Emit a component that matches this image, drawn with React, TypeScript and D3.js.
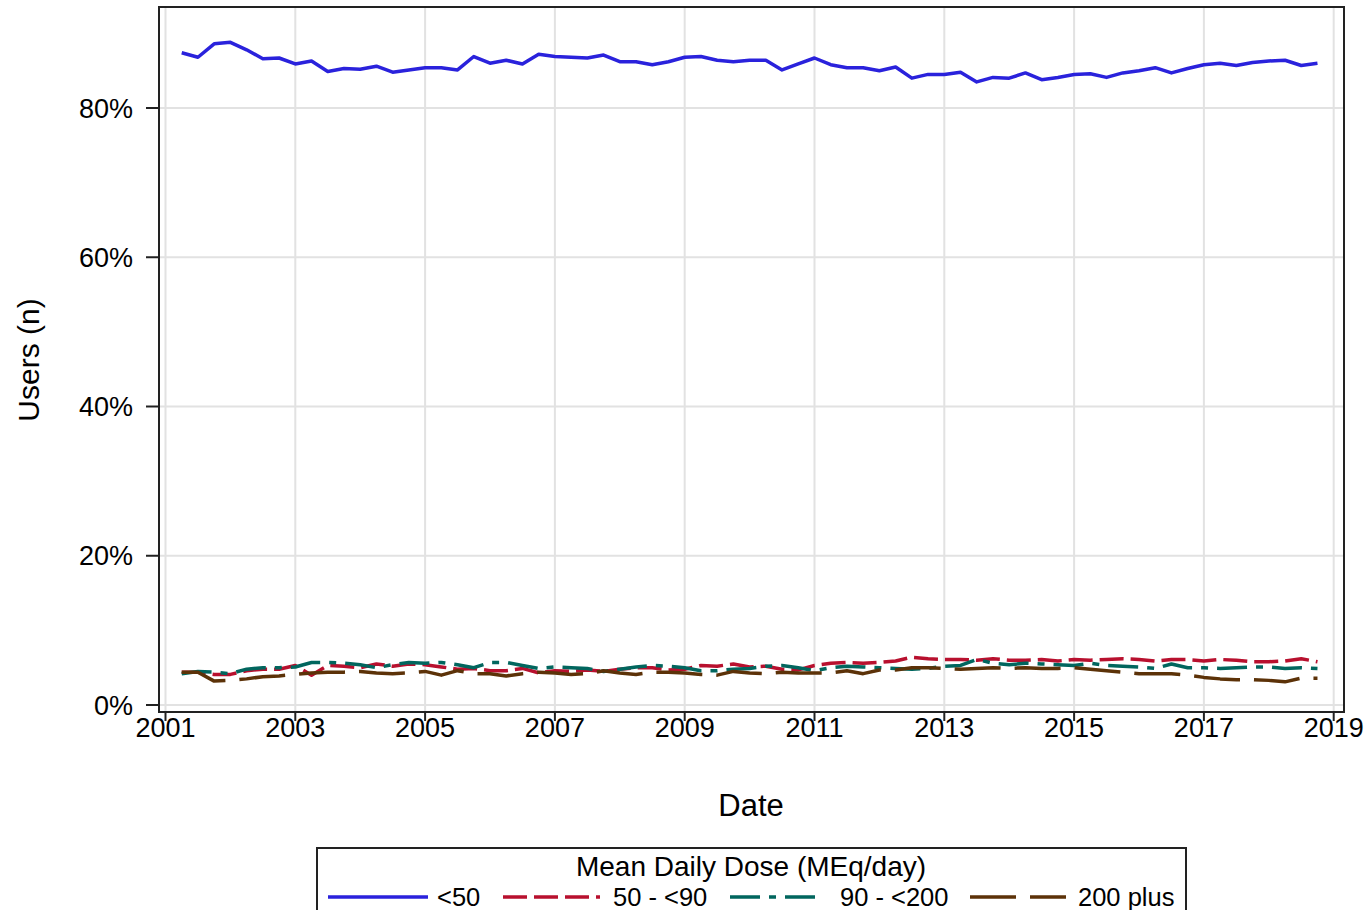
import React from "react";
import * as d3 from "d3";

// ---- Data (quarterly, starting 2001 Q2) ----
const START_YEAR = 2001.25;
const STEP = 0.25;

const lt50 = [87.4, 86.8, 88.6, 88.8, 87.8, 86.6, 86.7, 85.9, 86.3, 84.9, 85.3, 85.2, 85.6, 84.8, 85.1, 85.4, 85.4, 85.1, 86.9, 86.0, 86.4, 85.9, 87.2, 86.9,
  86.8, 86.7, 87.1, 86.2, 86.2, 85.8, 86.2, 86.8, 86.9, 86.4, 86.2, 86.4, 86.4, 85.1, 85.9, 86.7, 85.8, 85.4, 85.4, 85.0, 85.5, 84.0, 84.5, 84.5,
  84.8, 83.5, 84.1, 84.0, 84.7, 83.8, 84.1, 84.5, 84.6, 84.1, 84.7, 85.0, 85.4, 84.7, 85.3, 85.8, 86.0, 85.7, 86.1, 86.3, 86.4, 85.7, 86.0];

const d50to90 = [4.4, 4.4, 4.1, 4.1, 4.6, 4.8, 4.8, 5.3, 4.0, 5.3, 5.2, 5.0, 5.5, 5.2, 5.5, 5.4, 5.1, 4.8, 4.9, 4.6, 4.6, 4.9, 4.3, 4.6,
  4.5, 4.7, 4.5, 4.8, 5.0, 5.0, 4.7, 4.8, 5.3, 5.2, 5.5, 5.1, 5.2, 4.8, 4.7, 5.3, 5.6, 5.7, 5.6, 5.7, 5.9, 6.4, 6.2, 6.1,
  6.1, 6.0, 6.2, 6.0, 6.0, 6.1, 5.9, 6.1, 6.0, 6.1, 6.2, 6.1, 5.9, 6.1, 6.1, 5.9, 6.1, 6.0, 5.8, 5.8, 5.9, 6.2, 5.8];

const d90to200 = [4.2, 4.5, 4.4, 4.2, 4.8, 5.0, 5.0, 5.1, 5.7, 5.7, 5.6, 5.4, 5.0, 5.4, 5.7, 5.6, 5.7, 5.4, 5.0, 5.7, 5.7, 5.3, 4.9, 5.1,
  5.0, 4.9, 4.5, 4.8, 5.1, 5.3, 5.2, 5.0, 4.6, 4.6, 4.8, 4.9, 5.2, 5.3, 5.0, 4.6, 5.0, 5.2, 5.1, 5.0, 4.9, 4.8, 4.9, 5.2,
  5.3, 6.1, 5.6, 5.4, 5.6, 5.5, 5.4, 5.3, 5.6, 5.3, 5.2, 5.1, 4.9, 5.5, 5.0, 5.0, 4.9, 5.0, 5.1, 5.1, 4.9, 5.0, 4.9];

const d200plus = [4.4, 4.4, 3.2, 3.3, 3.5, 3.8, 3.9, 4.1, 4.3, 4.4, 4.4, 4.5, 4.3, 4.2, 4.3, 4.5, 4.0, 4.6, 4.2, 4.2, 3.9, 4.2, 4.4, 4.3,
  4.1, 4.2, 4.6, 4.3, 4.1, 4.4, 4.4, 4.3, 4.1, 4.0, 4.5, 4.3, 4.2, 4.4, 4.3, 4.3, 4.3, 4.6, 4.2, 4.7, 4.7, 5.0, 5.0, 4.9,
  4.8, 4.9, 5.0, 4.9, 5.0, 4.9, 4.9, 5.0, 4.8, 4.6, 4.4, 4.2, 4.2, 4.2, 4.0, 3.7, 3.5, 3.4, 3.4, 3.3, 3.1, 3.6, 3.6];

const seriesNames = ["<50", "50 - <90", "90 - <200", "200 plus"];
const seriesValues = [lt50, d50to90, d90to200, d200plus];
const seriesColors = ["#2a22dc", "#b8102e", "#01665e", "#5c3208"];
const seriesDash = ["none", "24,7", "30,9,7,9", "46,14"];

const xTicks = [2001, 2003, 2005, 2007, 2009, 2011, 2013, 2015, 2017, 2019];
const yTicks = [0, 20, 40, 60, 80];

const legendTitle = "Mean Daily Dose (MEq/day)";

export default function App() {
  const W = 1367, H = 910;
  const frame = { left: 159, right: 1344, top: 7, bottom: 712 };
  const x = d3.scaleLinear().domain([2001, 2019]).range([165.5, 1333.7]);
  const y = d3.scaleLinear().domain([0, 80]).range([705, 108]);
  const dates = lt50.map((_, i) => START_YEAR + STEP * i);

  const line = d3
    .line<number>()
    .x((_, i) => x(dates[i]))
    .y((v) => y(v));

  const font = "'Liberation Sans', Arial, Helvetica, sans-serif";

  const legendSamples = [
    [328, 428, 437],
    [503, 600, 613],
    [730, 822, 840],
    [970, 1066, 1078],
  ];

  return (
    <svg
      width={W}
      height={H}
      style={{ position: "absolute", left: 0, top: 0, background: "#fff" }}
      fontFamily={font}
    >
      <rect x={0} y={0} width={W} height={H} fill="#fff" />
      {/* grid */}
      <g stroke="#e2e2e2" strokeWidth={2}>
        {xTicks.map((t) => (
          <line key={"gx" + t} x1={x(t)} x2={x(t)} y1={frame.top} y2={frame.bottom} />
        ))}
        {yTicks.map((t) => (
          <line key={"gy" + t} x1={frame.left} x2={frame.right} y1={y(t)} y2={y(t)} />
        ))}
      </g>
      {/* series */}
      <g fill="none" strokeLinejoin="round">
        {seriesValues.map((vals, k) => (
          <path
            key={seriesNames[k]}
            d={line(vals) || ""}
            stroke={seriesColors[k]}
            strokeWidth={3.5}
            strokeDasharray={seriesDash[k] === "none" ? undefined : seriesDash[k]}
          />
        ))}
      </g>
      {/* frame */}
      <rect
        x={frame.left}
        y={frame.top}
        width={frame.right - frame.left}
        height={frame.bottom - frame.top}
        fill="none"
        stroke="#222"
        strokeWidth={2}
      />
      {/* y axis ticks */}
      <g>
        {yTicks.map((t) => (
          <g key={"yt" + t}>
            <line x1={frame.left - 13} x2={frame.left} y1={y(t)} y2={y(t)} stroke="#222" strokeWidth={2} />
            <text x={133} y={y(t) + 9.5} textAnchor="end" fontSize={27} fill="#000">
              {t + "%"}
            </text>
          </g>
        ))}
      </g>
      {/* x axis ticks */}
      <g>
        {xTicks.map((t) => (
          <g key={"xt" + t}>
            <line x1={x(t)} x2={x(t)} y1={frame.bottom} y2={frame.bottom + 9} stroke="#222" strokeWidth={2} />
            <text x={x(t)} y={737} textAnchor="middle" fontSize={27} fill="#000">
              {t}
            </text>
          </g>
        ))}
      </g>
      {/* axis titles */}
      <text x={751} y={816} textAnchor="middle" fontSize={31} fill="#000">
        Date
      </text>
      <text
        transform="translate(39,360) rotate(-90)"
        textAnchor="middle"
        fontSize={30}
        fill="#000"
      >
        Users (n)
      </text>
      {/* legend */}
      <rect x={317} y={848} width={869} height={80} fill="none" stroke="#222" strokeWidth={2} />
      <text x={751} y={876} textAnchor="middle" fontSize={28} fill="#000">
        {legendTitle}
      </text>
      {seriesNames.map((name, k) => {
        const [x1, x2, tx] = legendSamples[k];
        return (
          <g key={"lg" + name}>
            <line
              x1={x1}
              x2={x2}
              y1={897}
              y2={897}
              stroke={seriesColors[k]}
              strokeWidth={3.5}
              strokeDasharray={seriesDash[k] === "none" ? undefined : seriesDash[k]}
            />
            <text x={tx} y={906} fontSize={25.5} fill="#000">
              {name}
            </text>
          </g>
        );
      })}
    </svg>
  );
}
